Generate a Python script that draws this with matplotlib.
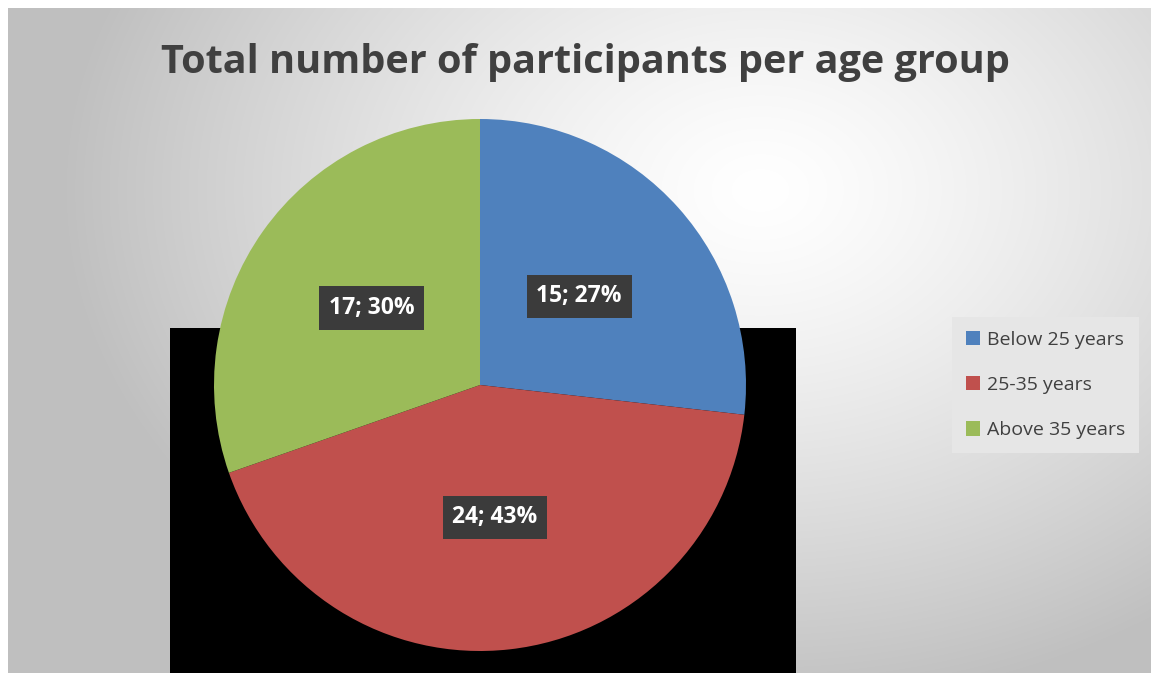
import numpy as np
from matplotlib import pyplot as plt
from matplotlib.patches import Rectangle

groups = ['Below 25 years', '25-35 years', 'Above 35 years']
counts = [15, 24, 17]
colors = ['#4F81BD', '#C0504D', '#9BBB59']

plt.rcParams['font.family'] = ['Open Sans', 'DejaVu Sans']

W, H = 1155, 673
fig = plt.figure(figsize=(W / 100, H / 100), dpi=100)
fig.patch.set_facecolor('white')

# background: grey radial gradient + black block behind the pie
bg = fig.add_axes([0, 0, 1, 1])
bg.set_xlim(0, W)
bg.set_ylim(H, 0)
bg.axis('off')
yy, xx = np.mgrid[8:H, 8:1151]
d = np.sqrt(((xx - 760) / 700.0) ** 2 + ((yy - 190) / 520.0) ** 2)
g = 1.0 - 0.25 * np.clip(d, 0, 1) ** 1.3
bg.imshow(np.dstack([g, g, g]), extent=(8, 1151, H, 8), aspect='auto', interpolation='bilinear')
bg.add_patch(Rectangle((170, 328), 626, 345, facecolor='black', edgecolor='none'))

fig.text(585 / W, 1 - 73 / H, 'Total number of participants per age group',
         ha='center', va='baseline', fontsize=28.5, fontweight='bold', color='#404040')

ax = fig.add_axes([(480 - 266) / W, (H - 385 - 266) / H, 532 / W, 532 / H])
total = sum(counts)


def fmt(p):
    n = int(round(p * total / 100.0))
    return '{}; {:.0f}%'.format(n, p)


wedges, texts, autotexts = ax.pie(counts, colors=colors, startangle=90, counterclock=False,
                                  autopct=fmt, pctdistance=0.5,
                                  wedgeprops=dict(edgecolor='none'))
for t in autotexts:
    t.set_color('white')
    t.set_fontsize(16.5)
    t.set_fontweight('bold')
    t.set_bbox(dict(boxstyle='square,pad=0.42', facecolor='#3b3b3b', edgecolor='none'))
ax.set_xlim(-1, 1)
ax.set_ylim(-1, 1)

leg = fig.legend(wedges, groups, loc='center left', bbox_to_anchor=(952 / W, 1 - 385 / H),
                 frameon=True, fancybox=False, framealpha=1, fontsize=14,
                 handlelength=0.75, handleheight=0.75, handletextpad=0.35,
                 labelspacing=1.4, borderpad=0.7, borderaxespad=0)
leg.get_frame().set_facecolor('#e6e6e6')
leg.get_frame().set_edgecolor('none')
for t in leg.get_texts():
    t.set_color('#404040')

fig.savefig('out.png', dpi=100)
